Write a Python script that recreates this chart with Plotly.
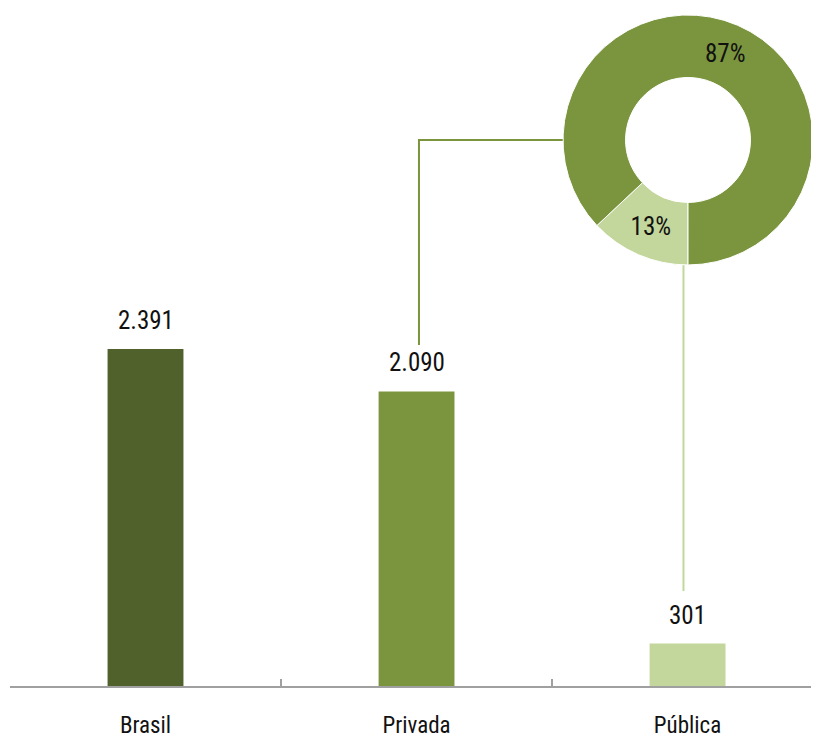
import plotly.graph_objects as go

# ---- data ----
categories = ["Brasil", "Privada", "Pública"]
values = [2391, 2090, 301]
bar_colors = ["#50612C", "#7A953E", "#C3D69B"]
donut_labels = ["Pública", "Privada"]
donut_values = [13, 87]
donut_colors = ["#C3D69B", "#7A953E"]

FONT = "Liberation Sans Narrow, Roboto Condensed, Arial Narrow, Open Sans, sans-serif"
TEXT_COLOR = "#111111"

# the page adds an 8px body margin, so the figure is sized to fit inside the window
W, H = 811, 730
XR = [-0.5, 2.485]
YR = [0, 4810]
DONUT_X = [0.6836, 0.9926]
DONUT_Y = [0.621, 0.9897]


def dx(p):
    return XR[0] + p * (XR[1] - XR[0])


def dy(p):
    return YR[0] + p * (YR[1] - YR[0])


fig = go.Figure()

fig.add_trace(go.Bar(
    x=categories, y=values, width=0.28,
    marker=dict(color=bar_colors, line=dict(width=0)),
    hoverinfo="skip", showlegend=False,
))

# value labels
for c, v in zip(categories, values):
    fig.add_annotation(
        x=c, y=v, xref="x", yref="y", yanchor="bottom", yshift=12,
        text=f"{v:,}".replace(",", "."), showarrow=False,
        font=dict(family=FONT, size=25, color=TEXT_COLOR),
    )

# donut
fig.add_trace(go.Pie(
    labels=donut_labels, values=donut_values, hole=0.5, sort=False,
    direction="clockwise", rotation=180,
    marker=dict(colors=donut_colors, line=dict(color="white", width=1)),
    textinfo="percent", textposition="inside", insidetextorientation="horizontal",
    textfont=dict(family=FONT, size=25, color=TEXT_COLOR),
    domain=dict(x=DONUT_X, y=DONUT_Y), showlegend=False, hoverinfo="skip",
))

# connectors (shapes, data coordinates)
cy = dy((DONUT_Y[0] + DONUT_Y[1]) / 2)
fig.add_shape(type="path", xref="x", yref="y",
              path=f"M 1.009 {values[1] + 330} L 1.009 {cy} L {dx(DONUT_X[0])} {cy}",
              line=dict(color="#7A953E", width=2), layer="below")
fig.add_shape(type="line", xref="x", yref="y",
              x0=1.985, x1=1.985, y0=values[2] + 373, y1=dy(DONUT_Y[0]),
              line=dict(color="#C3D69B", width=2), layer="below")

fig.update_layout(
    width=W, height=H,
    margin=dict(l=2, r=0, t=0, b=52, autoexpand=False),
    paper_bgcolor="white", plot_bgcolor="white",
    font=dict(family=FONT, color=TEXT_COLOR),
    xaxis=dict(
        type="category", range=XR, showline=True, linecolor="#A0A0A0", linewidth=1.5,
        ticks="inside", ticklen=7, tickcolor="#A0A0A0", tickwidth=1.5,
        tickson="boundaries", showgrid=False, zeroline=False,
        tickfont=dict(family=FONT, size=23, color=TEXT_COLOR),
        ticklabelstandoff=18, fixedrange=True, automargin=False,
    ),
    yaxis=dict(range=YR, visible=False, showgrid=False, zeroline=False, automargin=False),
)

fig.write_html("out.html")
